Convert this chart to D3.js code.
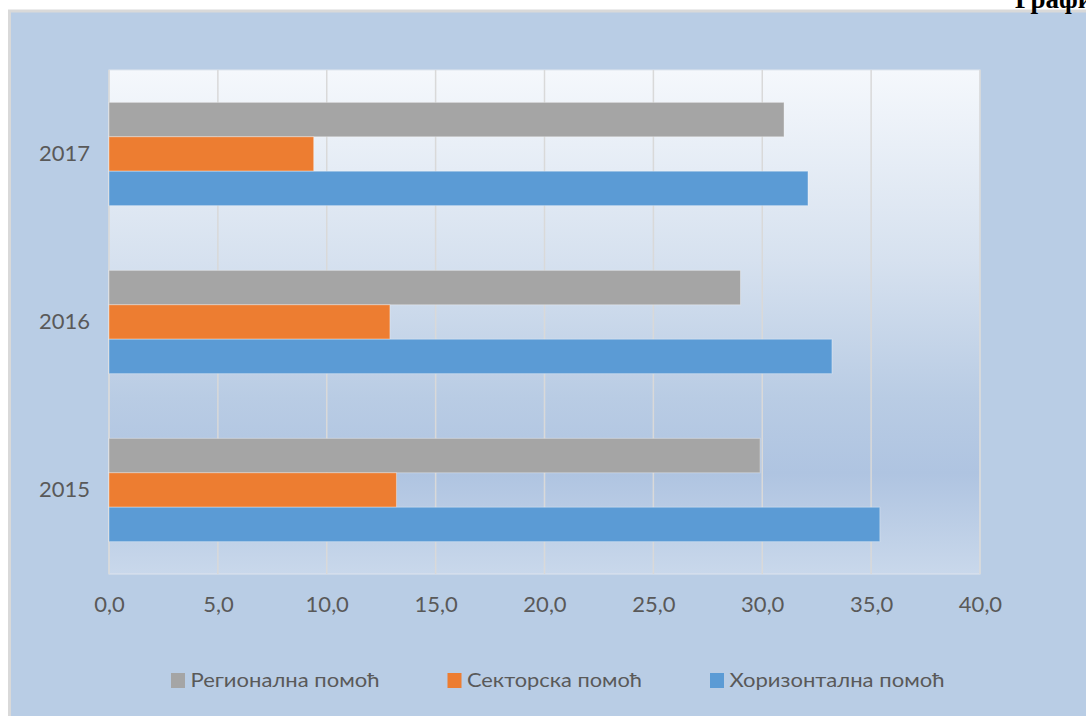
<!DOCTYPE html>
<html>
<head>
<meta charset="utf-8">
<title>Државна помоћ по категоријама</title>
<script src="https://cdn.jsdelivr.net/npm/d3@7"></script>
<style>
  body { margin: 0; background: #fff; }
  svg text { font-family: Lato, "Open Sans", "Liberation Sans", sans-serif; fill: #595959; }
  .grid line { stroke: #d9d9d9; stroke-width: 1.5; }
  .title { font-family: "Liberation Serif", "Times New Roman", serif !important; font-weight: bold; fill: #000 !important; }
</style>
</head>
<body>
<div id="chart"></div>
<script>
// values
let years = ["2017", "2016", "2015"];
let seriesNames = ["Регионална помоћ", "Секторска помоћ", "Хоризонтална помоћ"];
let seriesColors = ["#a5a5a5", "#ed7d31", "#5b9bd5"];
let regional   = [31.0, 29.0, 29.9];
let sectoral   = [9.4, 12.9, 13.2];
let horizontal = [32.1, 33.2, 35.4];
let xTicks = [0, 5, 10, 15, 20, 25, 30, 35, 40];

let width = 1086, height = 716;
let plot = {left: 109, right: 980, top: 70, bottom: 574};

let rows = [];
years.forEach(function(y, i) {
  rows.push({year: y, key: seriesNames[0], value: regional[i]});
  rows.push({year: y, key: seriesNames[1], value: sectoral[i]});
  rows.push({year: y, key: seriesNames[2], value: horizontal[i]});
});

let svg = d3.select("#chart").append("svg")
    .attr("width", width)
    .attr("height", height);

let defs = svg.append("defs");
let grad = defs.append("linearGradient")
    .attr("id", "plotbg")
    .attr("x1", 0).attr("y1", 0).attr("x2", 0).attr("y2", 1);
[[0, "#f5f8fc"], [0.38, "#d6e1ef"], [0.65, "#b9cce4"], [0.8, "#afc4e1"], [1, "#c9d8eb"]]
  .forEach(function(s) { grad.append("stop").attr("offset", s[0]).attr("stop-color", s[1]); });

// chart area
svg.append("rect")
    .attr("x", 9.5).attr("y", 11)
    .attr("width", width + 10).attr("height", height + 10)
    .attr("fill", "#b9cde5")
    .attr("stroke", "#d9d9d9")
    .attr("stroke-width", 3);

// heading at the top right (cut by the page edge in the original)
svg.append("text")
    .attr("class", "title")
    .attr("x", 1015).attr("y", 8)
    .style("font-size", "27px")
    .text("Графикон 1");

let x = d3.scaleLinear().domain([0, 40]).range([plot.left, plot.right]);
let y0 = d3.scaleBand().domain(years).range([plot.top, plot.bottom]);
let y1 = d3.scaleBand().domain(seriesNames).range([0, y0.bandwidth()]).paddingOuter(0.94);
let color = d3.scaleOrdinal().domain(seriesNames).range(seriesColors);

svg.append("rect")
    .attr("x", plot.left).attr("y", plot.top)
    .attr("width", plot.right - plot.left).attr("height", plot.bottom - plot.top)
    .attr("fill", "url(#plotbg)")
    .attr("stroke", "#dfe5ee")
    .attr("stroke-width", 1);

svg.append("g")
    .attr("class", "grid")
  .selectAll("line")
    .data(xTicks)
  .enter().append("line")
    .attr("x1", function(d) { return x(d); })
    .attr("x2", function(d) { return x(d); })
    .attr("y1", plot.top)
    .attr("y2", plot.bottom);

svg.append("g")
  .selectAll("rect")
    .data(rows)
  .enter().append("rect")
    .attr("x", x(0))
    .attr("y", function(d) { return y0(d.year) + y1(d.key); })
    .attr("width", function(d) { return x(d.value) - x(0); })
    .attr("height", y1.bandwidth())
    .attr("fill", function(d) { return color(d.key); })
    .attr("stroke", "rgba(255,255,255,0.35)")
    .attr("stroke-width", 1);

let fmt = function(v) { return d3.format(".1f")(v).replace(".", ","); };

// x axis labels
let xAxis = d3.axisBottom(x).tickValues(xTicks).tickFormat(fmt).tickSize(0).tickPadding(0);
svg.append("g")
    .attr("transform", "translate(0," + (plot.bottom + 22) + ")")
    .call(xAxis)
    .call(function(g) { g.select(".domain").remove(); })
    .selectAll("text")
      .attr("fill", "#595959")
      .style("font-size", "22px");

// y axis labels
let yAxis = d3.axisLeft(y0).tickSize(0).tickPadding(0);
svg.append("g")
    .attr("transform", "translate(" + (plot.left - 19) + ",0)")
    .call(yAxis)
    .call(function(g) { g.select(".domain").remove(); })
    .selectAll("text")
      .attr("fill", "#595959")
      .style("font-size", "22px");

// legend
let legendWidths = [189, 175, 215];
let lx = 171;
let legend = svg.append("g");
seriesNames.forEach(function(name, i) {
  legend.append("rect")
      .attr("x", lx).attr("y", 673)
      .attr("width", 14).attr("height", 15)
      .attr("fill", seriesColors[i]);
  legend.append("text")
      .attr("x", lx + 19.5).attr("y", 687)
      .attr("textLength", legendWidths[i])
      .attr("lengthAdjust", "spacingAndGlyphs")
      .style("font-size", "20px")
      .text(name);
  lx += 19.5 + legendWidths[i] + 68;
});
</script>
</body>
</html>
